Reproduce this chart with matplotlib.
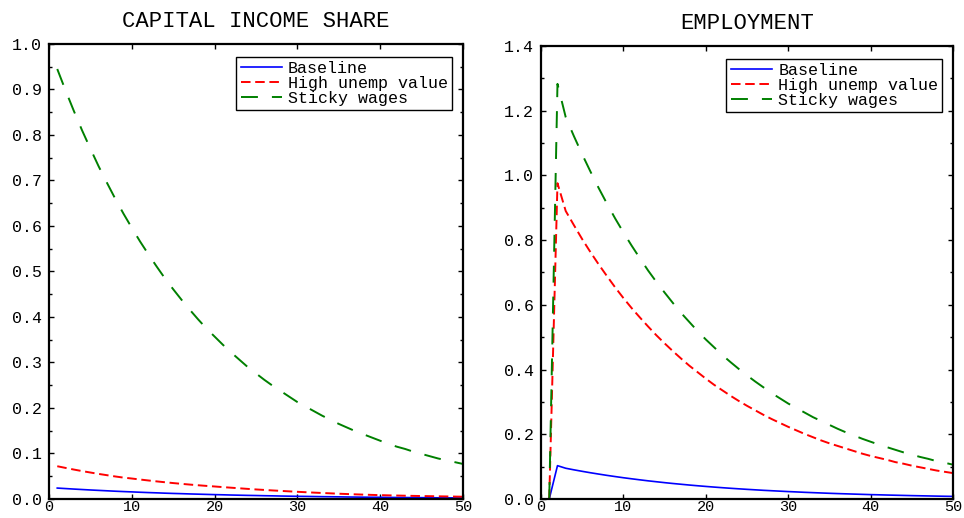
import matplotlib
matplotlib.use("Agg")
import matplotlib.pyplot as plt
from matplotlib.ticker import MultipleLocator, FormatStrFormatter

plt.rcParams['font.family'] = ['Liberation Mono', 'DejaVu Sans Mono']

periods = list(range(1, 51))
labels = ["Baseline", "High unemp value", "Sticky wages"]

# capital income share responses
cap_baseline = [
    0.0240, 0.0229, 0.0218, 0.0208, 0.0198, 0.0189, 0.0180, 0.0171, 0.0163, 0.0156,
    0.0148, 0.0141, 0.0135, 0.0128, 0.0122, 0.0117, 0.0111, 0.0106, 0.0101, 0.0096,
    0.0092, 0.0087, 0.0083, 0.0079, 0.0076, 0.0072, 0.0069, 0.0065, 0.0062, 0.0059,
    0.0057, 0.0054, 0.0051, 0.0049, 0.0047, 0.0044, 0.0042, 0.0040, 0.0038, 0.0037,
    0.0035, 0.0033, 0.0032, 0.0030, 0.0029, 0.0028, 0.0026, 0.0025, 0.0024, 0.0023]
cap_high_unemp = [
    0.0720, 0.0683, 0.0647, 0.0613, 0.0582, 0.0551, 0.0523, 0.0495, 0.0470, 0.0450,
    0.0428, 0.0407, 0.0387, 0.0368, 0.0350, 0.0333, 0.0317, 0.0302, 0.0288, 0.0275,
    0.0261, 0.0248, 0.0235, 0.0222, 0.0210, 0.0199, 0.0188, 0.0178, 0.0168, 0.0158,
    0.0149, 0.0140, 0.0132, 0.0124, 0.0116, 0.0109, 0.0102, 0.0096, 0.0090, 0.0085,
    0.0080, 0.0076, 0.0072, 0.0068, 0.0065, 0.0062, 0.0059, 0.0056, 0.0053, 0.0050]
cap_sticky = [
    0.945, 0.898, 0.853, 0.810, 0.770, 0.731, 0.695, 0.660, 0.627, 0.596,
    0.566, 0.538, 0.511, 0.485, 0.461, 0.438, 0.416, 0.395, 0.375, 0.357,
    0.339, 0.322, 0.306, 0.290, 0.276, 0.262, 0.249, 0.237, 0.225, 0.213,
    0.203, 0.193, 0.183, 0.174, 0.165, 0.157, 0.149, 0.142, 0.135, 0.128,
    0.121, 0.115, 0.110, 0.104, 0.099, 0.094, 0.089, 0.085, 0.081, 0.077]

# employment responses
emp_baseline = [
    0.0, 0.103, 0.0950, 0.0901, 0.0855, 0.0811, 0.0770, 0.0730, 0.0693, 0.0657,
    0.0624, 0.0592, 0.0561, 0.0533, 0.0505, 0.0479, 0.0455, 0.0431, 0.0409, 0.0388,
    0.0368, 0.0349, 0.0331, 0.0314, 0.0298, 0.0283, 0.0268, 0.0255, 0.0242, 0.0229,
    0.0218, 0.0206, 0.0196, 0.0186, 0.0176, 0.0167, 0.0159, 0.0151, 0.0143, 0.0135,
    0.0129, 0.0122, 0.0116, 0.0110, 0.0104, 0.0099, 0.0094, 0.0089, 0.0084, 0.0080]
emp_high_unemp = [
    0.0, 0.976, 0.890, 0.846, 0.803, 0.763, 0.725, 0.689, 0.654, 0.621,
    0.590, 0.561, 0.533, 0.506, 0.481, 0.457, 0.434, 0.412, 0.392, 0.372,
    0.353, 0.336, 0.319, 0.303, 0.288, 0.274, 0.260, 0.247, 0.235, 0.223,
    0.212, 0.201, 0.191, 0.181, 0.172, 0.164, 0.156, 0.148, 0.140, 0.133,
    0.127, 0.121, 0.114, 0.109, 0.103, 0.098, 0.093, 0.088, 0.084, 0.080]
emp_sticky = [
    0.0, 1.283, 1.180, 1.121, 1.065, 1.012, 0.961, 0.913, 0.867, 0.824,
    0.783, 0.744, 0.706, 0.671, 0.638, 0.606, 0.575, 0.547, 0.519, 0.493,
    0.469, 0.445, 0.423, 0.402, 0.382, 0.363, 0.345, 0.327, 0.311, 0.295,
    0.281, 0.267, 0.253, 0.241, 0.229, 0.217, 0.206, 0.196, 0.186, 0.177,
    0.168, 0.160, 0.152, 0.144, 0.137, 0.130, 0.124, 0.117, 0.112, 0.106]

fig = plt.figure(figsize=(9.64, 5.18), dpi=100)
ax1 = fig.add_axes([0.0508, 0.0367, 0.4295, 0.8784])
ax2 = fig.add_axes([0.5612, 0.0367, 0.4274, 0.8745])


def draw_panel(ax, title, base, high, sticky, ymax, major, minor):
    ax.plot(periods, base, color="#0000ff", lw=1.2, label=labels[0])
    ax.plot(periods, high, color="#ff0000", lw=1.4,
            linestyle=(0, (4.9, 2.4)), label=labels[1])
    ax.plot(periods, sticky, color="#008000", lw=1.4,
            linestyle=(0, (8.7, 7.2)), label=labels[2])
    ax.set_xlim(0, 50)
    ax.set_ylim(0, ymax)
    ax.xaxis.set_major_locator(MultipleLocator(10))
    ax.yaxis.set_major_locator(MultipleLocator(major))
    ax.yaxis.set_minor_locator(MultipleLocator(minor))
    ax.yaxis.set_major_formatter(FormatStrFormatter("%.1f"))
    ax.tick_params(which="both", direction="in", top=True, right=True,
                   width=1.0)
    ax.tick_params(which="major", length=3.5)
    ax.tick_params(which="minor", length=2.5)
    ax.tick_params(axis="y", pad=5, labelsize=12)
    ax.tick_params(axis="x", pad=0.5, labelsize=11)
    for sp in ax.spines.values():
        sp.set_linewidth(1.6)
    ax.set_title(title, fontsize=16, pad=12)
    leg = ax.legend(loc="upper right", bbox_to_anchor=(0.974, 0.972),
                    borderaxespad=0, fancybox=False, framealpha=1,
                    edgecolor="black", fontsize=12, handlelength=2.5,
                    handletextpad=0.35, labelspacing=0.0, borderpad=0.25)
    leg.get_frame().set_linewidth(1.0)


draw_panel(ax1, "CAPITAL INCOME SHARE", cap_baseline, cap_high_unemp,
           cap_sticky, 1.0, 0.1, 0.05)
draw_panel(ax2, "EMPLOYMENT", emp_baseline, emp_high_unemp,
           emp_sticky, 1.4, 0.2, 0.1)

fig.savefig("out.png", dpi=100)
